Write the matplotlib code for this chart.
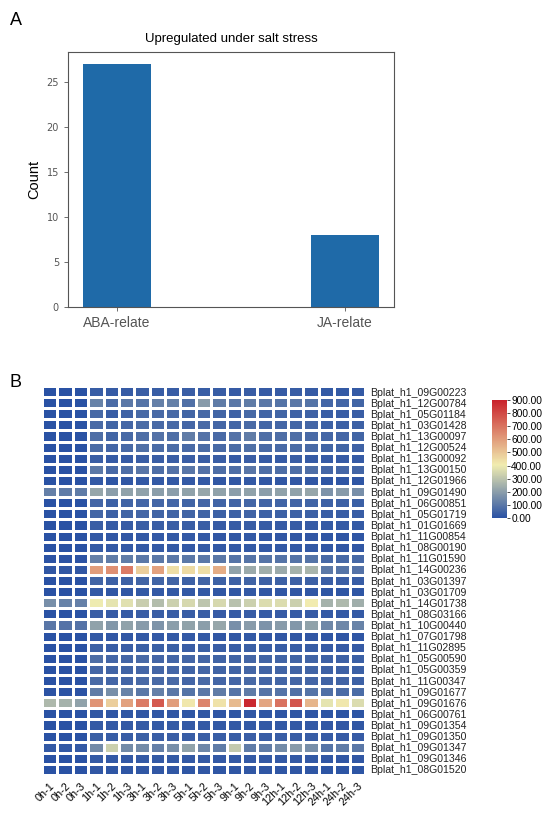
import numpy as np
import matplotlib
matplotlib.use('Agg')
import matplotlib.pyplot as plt
from matplotlib.colors import LinearSegmentedColormap

# Panel A data
bar_labels = ['ABA-relate', 'JA-relate']
bar_counts = [27, 8]

# Panel B data
samples = ['0h-1', '0h-2', '0h-3', '1h-1', '1h-2', '1h-3', '3h-1', '3h-2', '3h-3',
           '5h-1', '5h-2', '5h-3', '9h-1', '9h-2', '9h-3', '12h-1', '12h-2', '12h-3',
           '24h-1', '24h-2', '24h-3']

genes = ['09G00223', '12G00784', '05G01184', '03G01428', '13G00097', '12G00524',
         '13G00092', '13G00150', '12G01966', '09G01490', '06G00851', '05G01719',
         '01G01669', '11G00854', '08G00190', '11G01590', '14G00236', '03G01397',
         '03G01709', '14G01738', '08G03166', '10G00440', '07G01798', '11G02895',
         '05G00590', '05G00359', '11G00347', '09G01677', '09G01676', '06G00761',
         '09G01354', '09G01350', '09G01347', '09G01346', '08G01520']
gene_labels = ['Bplat_h1_' + g for g in genes]

expr = [
    [2, 2, 2, 30, 25, 28, 32, 30, 30, 32, 30, 30, 26, 30, 28, 26, 30, 28, 22, 22, 22],
    [3, 3, 3, 130, 70, 100, 90, 120, 120, 80, 190, 110, 100, 110, 100, 90, 100, 90, 55, 55, 50],
    [3, 3, 3, 60, 30, 45, 65, 65, 65, 50, 60, 50, 45, 60, 50, 50, 45, 45, 35, 35, 32],
    [3, 3, 3, 65, 50, 55, 70, 65, 65, 55, 65, 55, 55, 65, 55, 55, 55, 55, 42, 42, 40],
    [3, 3, 3, 75, 50, 60, 75, 85, 75, 110, 85, 65, 85, 110, 75, 75, 75, 65, 55, 55, 50],
    [3, 3, 3, 70, 55, 65, 80, 70, 70, 65, 70, 65, 70, 80, 65, 65, 70, 65, 50, 50, 45],
    [2, 2, 2, 35, 28, 28, 35, 35, 35, 35, 35, 32, 28, 35, 28, 28, 32, 28, 25, 25, 25],
    [3, 3, 3, 105, 65, 75, 95, 75, 85, 95, 85, 75, 75, 95, 75, 75, 75, 75, 55, 55, 50],
    [2, 2, 2, 20, 14, 16, 20, 20, 20, 20, 20, 16, 16, 20, 16, 16, 16, 16, 12, 12, 12],
    [120, 110, 110, 220, 200, 210, 210, 200, 200, 210, 220, 210, 200, 210, 200, 210, 210, 220, 170, 190, 160],
    [3, 3, 3, 55, 40, 48, 55, 55, 55, 48, 55, 48, 48, 55, 48, 48, 48, 48, 40, 40, 36],
    [3, 3, 3, 55, 40, 48, 55, 48, 48, 48, 48, 40, 40, 48, 40, 40, 40, 40, 32, 32, 30],
    [2, 2, 2, 32, 26, 26, 32, 32, 32, 30, 32, 26, 26, 30, 26, 26, 26, 26, 22, 22, 22],
    [2, 2, 2, 20, 16, 16, 20, 20, 20, 20, 20, 16, 16, 20, 16, 16, 16, 16, 12, 12, 12],
    [2, 2, 2, 24, 20, 20, 24, 24, 24, 20, 24, 20, 20, 24, 20, 20, 20, 20, 16, 16, 16],
    [6, 6, 6, 120, 110, 110, 100, 100, 100, 100, 100, 100, 90, 90, 90, 90, 90, 90, 60, 60, 60],
    [15, 15, 15, 600, 630, 680, 480, 590, 440, 450, 440, 560, 210, 230, 240, 230, 250, 260, 100, 90, 85],
    [3, 3, 3, 48, 40, 40, 48, 48, 48, 40, 48, 40, 40, 48, 40, 40, 40, 40, 32, 32, 30],
    [2, 2, 2, 20, 16, 16, 20, 20, 20, 20, 20, 16, 16, 20, 16, 16, 16, 16, 12, 12, 12],
    [160, 130, 120, 400, 380, 370, 320, 280, 330, 350, 300, 350, 290, 330, 360, 360, 330, 410, 250, 270, 240],
    [3, 3, 3, 35, 28, 28, 35, 35, 35, 30, 35, 28, 28, 30, 28, 28, 28, 28, 24, 24, 24],
    [95, 85, 85, 210, 180, 210, 190, 170, 200, 210, 200, 220, 160, 190, 170, 190, 180, 210, 140, 140, 130],
    [2, 2, 2, 20, 16, 16, 20, 20, 20, 20, 20, 16, 16, 20, 16, 16, 16, 16, 12, 12, 12],
    [2, 2, 2, 40, 30, 32, 36, 36, 36, 32, 36, 32, 30, 36, 30, 30, 30, 30, 26, 26, 26],
    [3, 3, 3, 75, 55, 55, 65, 55, 55, 55, 55, 48, 48, 55, 48, 48, 48, 48, 40, 40, 36],
    [3, 3, 3, 55, 48, 48, 55, 55, 55, 48, 55, 48, 48, 55, 48, 48, 48, 48, 40, 40, 36],
    [3, 3, 3, 65, 55, 55, 65, 65, 65, 55, 65, 55, 55, 65, 55, 55, 55, 55, 48, 48, 40],
    [6, 6, 6, 110, 160, 130, 100, 120, 100, 90, 100, 110, 90, 110, 90, 90, 80, 90, 80, 70, 70],
    [270, 250, 210, 620, 480, 590, 680, 760, 600, 420, 660, 430, 530, 880, 580, 700, 770, 540, 380, 420, 360],
    [2, 2, 2, 16, 12, 12, 16, 16, 16, 12, 16, 12, 12, 16, 12, 12, 12, 12, 10, 10, 10],
    [2, 2, 2, 24, 20, 20, 24, 24, 24, 20, 24, 20, 20, 24, 20, 20, 20, 20, 16, 16, 16],
    [2, 2, 2, 38, 30, 30, 38, 34, 34, 30, 34, 30, 30, 34, 30, 30, 30, 30, 26, 26, 26],
    [20, 20, 20, 150, 330, 150, 150, 120, 160, 210, 140, 110, 310, 110, 110, 150, 190, 160, 90, 110, 100],
    [2, 2, 2, 24, 20, 20, 24, 24, 24, 20, 24, 20, 20, 24, 20, 20, 20, 20, 16, 16, 16],
    [2, 2, 2, 16, 12, 12, 16, 16, 16, 12, 16, 12, 12, 16, 12, 12, 12, 12, 10, 10, 10],
]

cbar_ticks = [0, 100, 200, 300, 400, 500, 600, 700, 800, 900]


def main():
    plt.rcParams['font.family'] = ['Liberation Sans', 'DejaVu Sans']
    fig = plt.figure(figsize=(5.5, 8.13), dpi=100)

    # ---- Panel A: bar chart ----
    ax1 = fig.add_axes([0.1236, 0.6224, 0.5928, 0.3136])
    x = np.arange(len(bar_labels))
    ax1.bar(x, bar_counts, width=0.3, color='#1f6aa8')
    ax1.set_xticks(x)
    ax1.set_xticklabels(bar_labels, fontsize=10, color='#222222')
    ax1.set_yticks([0, 5, 10, 15, 20, 25])
    ax1.set_yticklabels(['0', '5', '10', '15', '20', '25'],
                        fontsize=7, family='DejaVu Sans', color='#333333')
    ax1.set_ylabel('Count', fontsize=10.5)
    ax1.set_title('Upregulated under salt stress', fontsize=9.5, pad=7)
    for s in ax1.spines.values():
        s.set_color('#555555')
        s.set_linewidth(0.8)
    ax1.tick_params(length=3, width=0.6, colors='#555555')
    fig.text(0.018, 0.975, 'A', fontsize=13, va='center')

    # ---- Panel B: heatmap ----
    cmap = LinearSegmentedColormap.from_list(
        'bry', [(0.0, '#2a52a4'), (0.45, '#f1edb0'), (1.0, '#c9212a')])
    data = np.array(expr, dtype=float)

    ax2 = fig.add_axes([0.0764, 0.0467, 0.5872, 0.4785])
    mesh = ax2.pcolormesh(data, cmap=cmap, vmin=0, vmax=900,
                          edgecolors='white', linewidth=0.75)
    ax2.set_xlim(0, data.shape[1])
    ax2.set_ylim(data.shape[0], 0)
    ax2.set_xticks(np.arange(len(samples)) + 0.5)
    ax2.set_xticklabels(samples, rotation=45, ha='right', va='top',
                        rotation_mode='anchor', fontsize=7.8)
    ax2.set_yticks(np.arange(len(gene_labels)) + 0.5)
    ax2.set_yticklabels(gene_labels, fontsize=7.6, color='#222222')
    ax2.yaxis.tick_right()
    ax2.tick_params(length=0, pad=4)
    for s in ax2.spines.values():
        s.set_visible(False)
    fig.text(0.018, 0.53, 'B', fontsize=13, va='center')

    cax = fig.add_axes([0.8945, 0.3629, 0.0273, 0.1451])
    cb = fig.colorbar(mesh, cax=cax, ticks=cbar_ticks)
    cb.ax.set_yticklabels(['%.2f' % t for t in cbar_ticks], fontsize=7.3)
    cb.ax.tick_params(length=2, width=0.5, pad=1)
    cb.outline.set_visible(False)

    fig.savefig('out.png', dpi=100)
    plt.close(fig)


if __name__ == "__main__":
    main()
